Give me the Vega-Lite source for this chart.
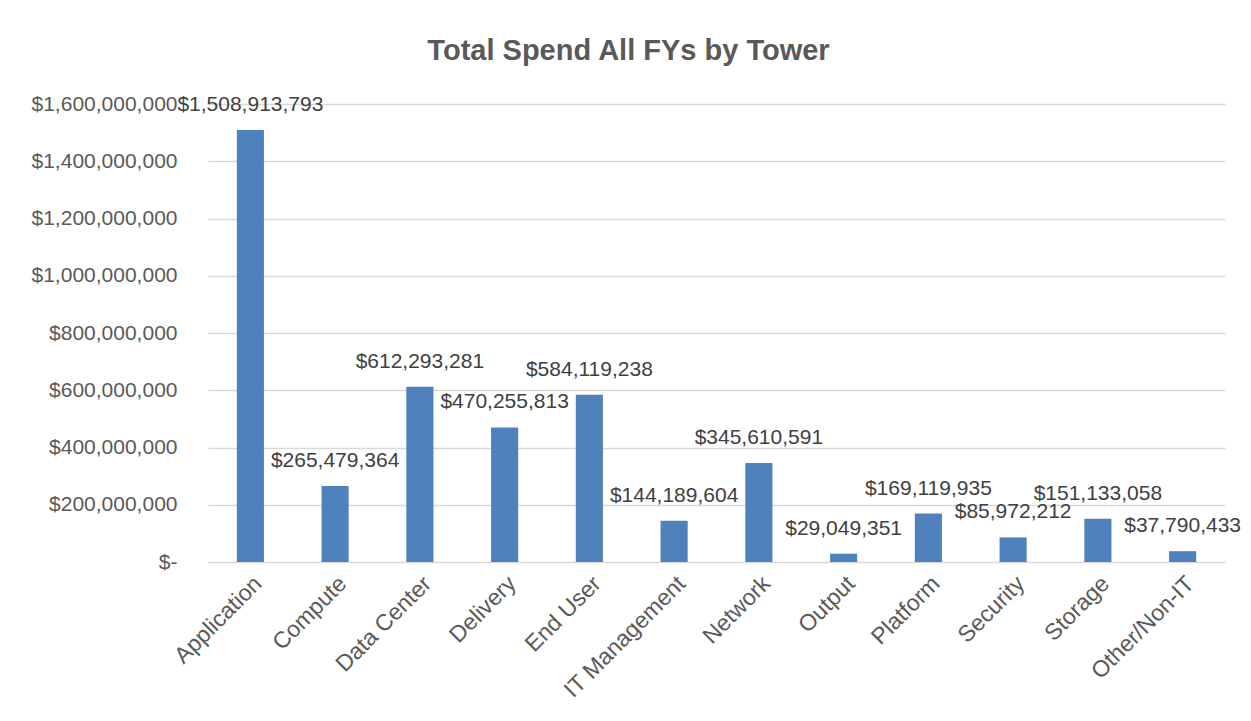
{
  "$schema": "https://vega.github.io/schema/vega-lite/v6.json",
  "autosize": "none",
  "width": 1017,
  "height": 458,
  "padding": {"left": 208, "top": 104, "right": 26, "bottom": 159},
  "background": "white",
  "title": {
    "text": "Total Spend All FYs by Tower",
    "fontSize": 29,
    "font": "Liberation Sans",
    "fontWeight": "bold",
    "color": "#595959",
    "anchor": "middle",
    "dx": -88,
    "offset": 27
  },
  "data": {
    "values": [
      {"tower": "Application", "spend": 1508913793},
      {"tower": "Compute", "spend": 265479364},
      {"tower": "Data Center", "spend": 612293281},
      {"tower": "Delivery", "spend": 470255813},
      {"tower": "End User", "spend": 584119238},
      {"tower": "IT Management", "spend": 144189604},
      {"tower": "Network", "spend": 345610591},
      {"tower": "Output", "spend": 29049351},
      {"tower": "Platform", "spend": 169119935},
      {"tower": "Security", "spend": 85972212},
      {"tower": "Storage", "spend": 151133058},
      {"tower": "Other/Non-IT", "spend": 37790433}
    ]
  },
  "encoding": {
    "x": {
      "field": "tower",
      "type": "nominal",
      "sort": null,
      "scale": {"paddingInner": 0.68, "paddingOuter": 0.34},
      "axis": {
        "title": null,
        "labelAngle": -45,
        "labelFont": "Liberation Sans",
        "labelFontSize": 23,
        "labelColor": "#595959",
        "ticks": false,
        "domain": false,
        "labelPadding": 10,
        "labelLimit": 300
      }
    },
    "y": {
      "field": "spend",
      "type": "quantitative",
      "scale": {"domain": [0, 1600000000], "nice": false},
      "axis": {
        "title": null,
        "values": [0, 200000000, 400000000, 600000000, 800000000, 1000000000, 1200000000, 1400000000, 1600000000],
        "labelExpr": "datum.value == 0 ? '$-' : '$' + format(datum.value, ',')",
        "labelFont": "Liberation Sans",
        "labelFontSize": 21,
        "labelColor": "#595959",
        "ticks": false,
        "domain": false,
        "labelPadding": 31,
        "gridColor": "#D9D9D9",
        "gridWidth": 1.5
      }
    }
  },
  "layer": [
    {"mark": {"type": "bar", "color": "#4F81BD"}},
    {
      "mark": {
        "type": "text",
        "baseline": "middle",
        "dy": -25,
        "font": "Liberation Sans",
        "fontSize": 21,
        "color": "#404040"
      },
      "encoding": {
        "text": {"field": "spend", "type": "quantitative", "format": "$,.0f"}
      }
    }
  ],
  "config": {"view": {"stroke": null}}
}
